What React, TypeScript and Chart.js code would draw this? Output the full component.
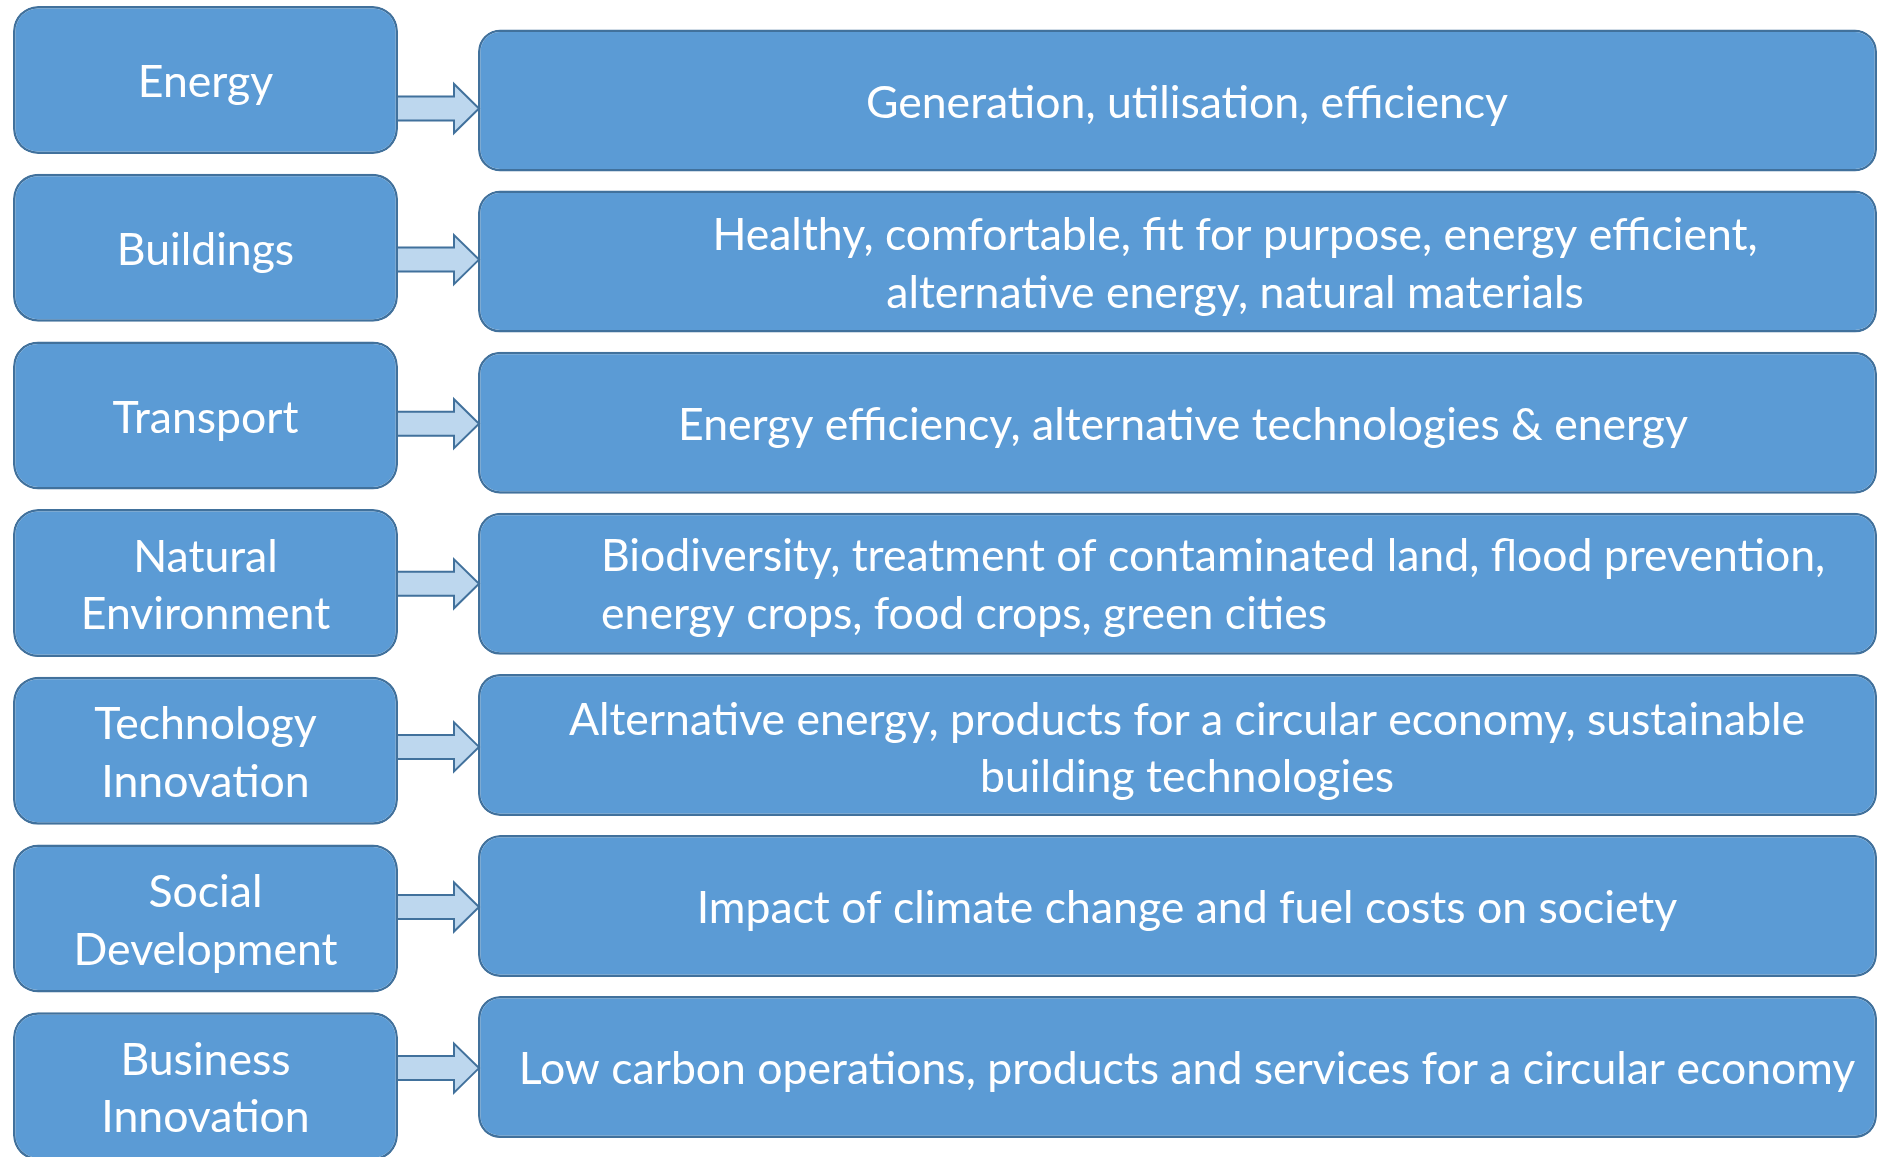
import React, { useEffect, useRef } from "react";
import { Chart, registerables } from "chart.js";

Chart.register(...registerables);

// ---------- data ----------
const CATEGORIES = [
  "Energy",
  "Buildings",
  "Transport",
  "Natural Environment",
  "Technology Innovation",
  "Social Development",
  "Business Innovation",
];

const CATEGORY_LINES = [
  ["Energy"],
  ["Buildings"],
  ["Transport"],
  ["Natural", "Environment"],
  ["Technology", "Innovation"],
  ["Social", "Development"],
  ["Business", "Innovation"],
];

const DESCRIPTION_LINES = [
  ["Generation, utilisation, efficiency"],
  ["Healthy, comfortable, fit for purpose, energy efficient,", "alternative energy, natural materials"],
  ["Energy efficiency, alternative technologies & energy"],
  ["Biodiversity, treatment of contaminated land, flood prevention,", "energy crops, food crops, green cities"],
  ["Alternative energy, products for a circular economy, sustainable", "building technologies"],
  ["Impact of climate change and fuel costs on society"],
  ["Low carbon operations, products and services for a circular economy"],
];

const ROWS = CATEGORIES.map((_, i) => i);

// ---------- layout (diagram units = px) ----------
const W = 1878;
const H = 1157;
const LEFT_X = [13, 398];
const RIGHT_X = [478, 1877];
const LEFT_FIRST = 80;
const LEFT_PITCH = 167.7;
const RIGHT_FIRST = 100.5;
const RIGHT_PITCH = 161.1;
const LEFT_THICK = 148;
const RIGHT_THICK = 142;
const ARROW_NUDGE = [8, -2, 1, 0, 2, 1, 1];
const TEXT_ALIGN = ["center", "center", "center", "left", "center", "center", "center"];
const TEXT_X = [1187, 1235, 1183, 601, 1187, 1187, 1187];
const TEXT_NUDGE = [3.5, 3, 3, 2, 4, 3, 3];
const LEFT_TEXT_NUDGE = 3;
const LINE_GAP = 57.5;
const REF_LINE = "Low carbon operations, products and services for a circular economy";
const REF_WIDTH = 1337;
const FONT_FAMILY = "Lato, 'Open Sans', sans-serif";

const FILL = "#5B9BD5";
const EDGE = "#41719C";
const ARROW_FILL = "#BDD7EE";

const arrowsAndText = {
  id: "arrowsAndText",
  afterDatasetsDraw(chart: any) {
    const ctx = chart.ctx as CanvasRenderingContext2D;
    const xs = chart.scales.x;
    const yL = chart.scales.yL;
    const yR = chart.scales.yR;

    // arrows
    ctx.save();
    ROWS.forEach((i) => {
      const cy = yR.getPixelForValue(i) + ARROW_NUDGE[i];
      const x0 = xs.getPixelForValue(LEFT_X[1]) - 1;
      const tip = xs.getPixelForValue(RIGHT_X[0]) + 1;
      const hb = tip - 25;
      const sh = 12;
      const hh = 24.5;
      ctx.beginPath();
      ctx.moveTo(x0, cy - sh);
      ctx.lineTo(hb, cy - sh);
      ctx.lineTo(hb, cy - hh);
      ctx.lineTo(tip, cy);
      ctx.lineTo(hb, cy + hh);
      ctx.lineTo(hb, cy + sh);
      ctx.lineTo(x0, cy + sh);
      ctx.closePath();
      ctx.fillStyle = ARROW_FILL;
      ctx.fill();
      ctx.lineWidth = 2;
      ctx.strokeStyle = EDGE;
      ctx.lineJoin = "miter";
      ctx.stroke();
    });

    // font calibration
    ctx.font = `100px ${FONT_FAMILY}`;
    const w = ctx.measureText(REF_LINE).width;
    const size = (100 * REF_WIDTH) / w;
    ctx.font = `${size}px ${FONT_FAMILY}`;
    ctx.fillStyle = "#FFFFFF";
    ctx.textBaseline = "middle";

    // left labels
    ROWS.forEach((i) => {
      const lines = CATEGORY_LINES[i];
      const cy = yL.getPixelForValue(i) + LEFT_TEXT_NUDGE;
      const cx = xs.getPixelForValue((LEFT_X[0] + LEFT_X[1]) / 2);
      ctx.textAlign = "center";
      lines.forEach((ln, j) => {
        const y = cy + (j - (lines.length - 1) / 2) * LINE_GAP;
        ctx.fillText(ln, cx, y);
      });
    });

    // right descriptions
    ROWS.forEach((i) => {
      const lines = DESCRIPTION_LINES[i];
      const cy = yR.getPixelForValue(i) + TEXT_NUDGE[i];
      const tx = xs.getPixelForValue(TEXT_X[i]);
      ctx.textAlign = TEXT_ALIGN[i] as CanvasTextAlign;
      lines.forEach((ln, j) => {
        const y = cy + (j - (lines.length - 1) / 2) * LINE_GAP;
        ctx.fillText(ln, tx, y);
      });
    });
    ctx.restore();
  },
};

export default function App() {
  const ref = useRef<HTMLCanvasElement | null>(null);

  useEffect(() => {
    const canvas = ref.current;
    if (!canvas) return;
    const lMin = -LEFT_FIRST / LEFT_PITCH;
    const lMax = lMin + H / LEFT_PITCH;
    const rMin = -RIGHT_FIRST / RIGHT_PITCH;
    const rMax = rMin + H / RIGHT_PITCH;

    const chart = new Chart(canvas, {
      type: "bar",
      data: {
        datasets: [
          {
            label: "Areas",
            data: ROWS.map((i) => ({ x: [LEFT_X[0], LEFT_X[1]], y: i })) as any,
            yAxisID: "yL",
            backgroundColor: FILL,
            borderColor: EDGE,
            borderWidth: 2.5,
            borderRadius: 25,
            borderSkipped: false,
            barThickness: LEFT_THICK,
            grouped: false,
            inflateAmount: 0,
          } as any,
          {
            label: "Focus",
            data: ROWS.map((i) => ({ x: [RIGHT_X[0], RIGHT_X[1]], y: i })) as any,
            yAxisID: "yR",
            backgroundColor: FILL,
            borderColor: EDGE,
            borderWidth: 2.5,
            borderRadius: 22,
            borderSkipped: false,
            barThickness: RIGHT_THICK,
            grouped: false,
            inflateAmount: 0,
          } as any,
        ],
      },
      options: {
        indexAxis: "y",
        responsive: false,
        animation: false,
        events: [],
        layout: { padding: 0 },
        plugins: {
          legend: { display: false },
          tooltip: { enabled: false },
        },
        scales: {
          x: { type: "linear", min: 0, max: W, display: false, offset: false, grace: 0 },
          yL: {
            type: "linear", position: "left", min: lMin, max: lMax, reverse: true,
            display: false, offset: false, grace: 0, grid: { offset: false },
          },
          yR: {
            type: "linear", position: "right", min: rMin, max: rMax, reverse: true,
            display: false, offset: false, grace: 0, grid: { offset: false },
          },
        },
      } as any,
      plugins: [arrowsAndText],
    });
    return () => chart.destroy();
  }, []);

  return (
    <div style={{ position: "absolute", left: 0, top: 0, width: W, height: H, background: "#FFFFFF" }}>
      <canvas ref={ref} width={W} height={H} style={{ display: "block" }} />
    </div>
  );
}
